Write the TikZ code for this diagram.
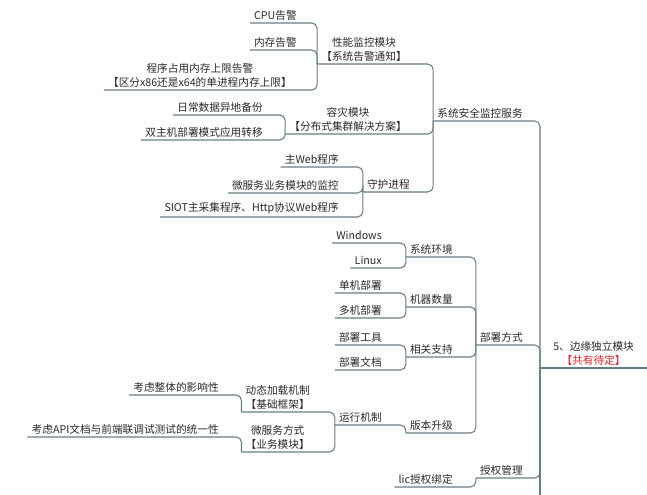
\documentclass[tikz,border=0pt]{standalone}
\usepackage{fontspec}
\newfontfamily\cjk{Noto Sans CJK SC}
\usepackage{xcolor}
\usepackage{tikz}

\definecolor{linec}{RGB}{104,124,134}
\definecolor{txt}{RGB}{40,40,40}
\definecolor{alert}{RGB}{226,32,40}

\begin{document}
\begin{tikzpicture}[x=0.75pt,y=-0.75pt,
    topic/.style={anchor=south east,align=center,inner xsep=3pt,inner ysep=2pt,text=txt,font=\cjk\fontsize{8}{10}\selectfont},
    link/.style={draw=linec,line width=0.8pt},
    branch/.style={rounded corners=4pt,to path={(\tikztostart.south west) |- (\tikztotarget.south west)}}]
       \useasboundingbox (0,0) rectangle (647,495);
       \node[topic,anchor=south west,minimum width=80pt] (root) at (540,368) {5、边缘独立模块\\\textcolor{alert}{【共有待定】}};
       \coordinate (rootend) at (540,497);
       \node[topic] (sec) at (527,121) {系统安全监控服务};
       \node[topic] (dep) at (527,345) {部署方式};
       \node[topic] (lic) at (527,478) {授权管理};
       \node[topic] (perf) at (411,64) {性能监控模块\\【系统告警通知】};
       \node[topic] (dr) at (411,134) {容灾模块\\【分布式集群解决方案】};
       \node[topic] (guard) at (414,192) {守护进程};
       \node[topic] (cpu) at (301,23) {CPU告警};
       \node[topic] (mem) at (301,50) {内存告警};
       \node[topic] (lim) at (296,90) {程序占用内存上限告警\\【区分x86还是x64的单进程内存上限】};
       \node[topic] (bak) at (267,115) {日常数据异地备份};
       \node[topic] (dual) at (267,140) {双主机部署模式应用转移};
       \node[topic] (web) at (343,167) {主Web程序};
       \node[topic] (svc) at (343,193) {微服务业务模块的监控};
       \node[topic] (siot) at (343,217) {SIOT主采集程序、Http协议Web程序};
       \node[topic] (env) at (457,257) {系统环境};
       \node[topic] (qty) at (457,307) {机器数量};
       \node[topic] (sup) at (457,357) {相关支持};
       \node[topic] (upg) at (457,433) {版本升级};
       \node[topic] (win) at (386,243) {Windows};
       \node[topic] (lnx) at (386,268) {Linux};
       \node[topic] (one) at (386,293) {单机部署};
       \node[topic] (many) at (386,318) {多机部署};
       \node[topic] (tool) at (386,345) {部署工具};
       \node[topic] (doc) at (386,370) {部署文档};
       \node[topic] (run) at (386,425) {运行机制};
       \node[topic] (dyn) at (314,412) {动态加载机制\\【基础框架】};
       \node[topic] (msm) at (314,452) {微服务方式\\【业务模块】};
       \node[topic] (whole) at (223,395) {考虑整体的影响性};
       \node[topic] (api) at (223,437) {考虑API文档与前端联调试测试的统一性};
       \node[topic] (bind) at (457,487) {lic授权绑定};
       \draw[link] (root.south east) -- (root.south west) -- (rootend);
        \path[link]
        (root) edge[branch] (sec)
        (root) edge[branch] (dep)
        (root) edge[branch] (lic)
        (sec) edge[branch] (perf)
        (sec) edge[branch] (dr)
        (sec) edge[branch] (guard)
        (perf) edge[branch] (cpu)
        (perf) edge[branch] (mem)
        (perf) edge[branch] (lim)
        (dr) edge[branch] (bak)
        (dr) edge[branch] (dual)
        (guard) edge[branch] (web)
        (guard) edge[branch] (svc)
        (guard) edge[branch] (siot)
        (dep) edge[branch] (env)
        (dep) edge[branch] (qty)
        (dep) edge[branch] (sup)
        (dep) edge[branch] (upg)
        (env) edge[branch] (win)
        (env) edge[branch] (lnx)
        (qty) edge[branch] (one)
        (qty) edge[branch] (many)
        (sup) edge[branch] (tool)
        (sup) edge[branch] (doc)
        (upg) edge[branch] (run)
        (run) edge[branch] (dyn)
        (run) edge[branch] (msm)
        (dyn) edge[branch] (whole)
        (msm) edge[branch] (api)
        (lic) edge[branch] (bind);
    \end{tikzpicture}
\end{document}
